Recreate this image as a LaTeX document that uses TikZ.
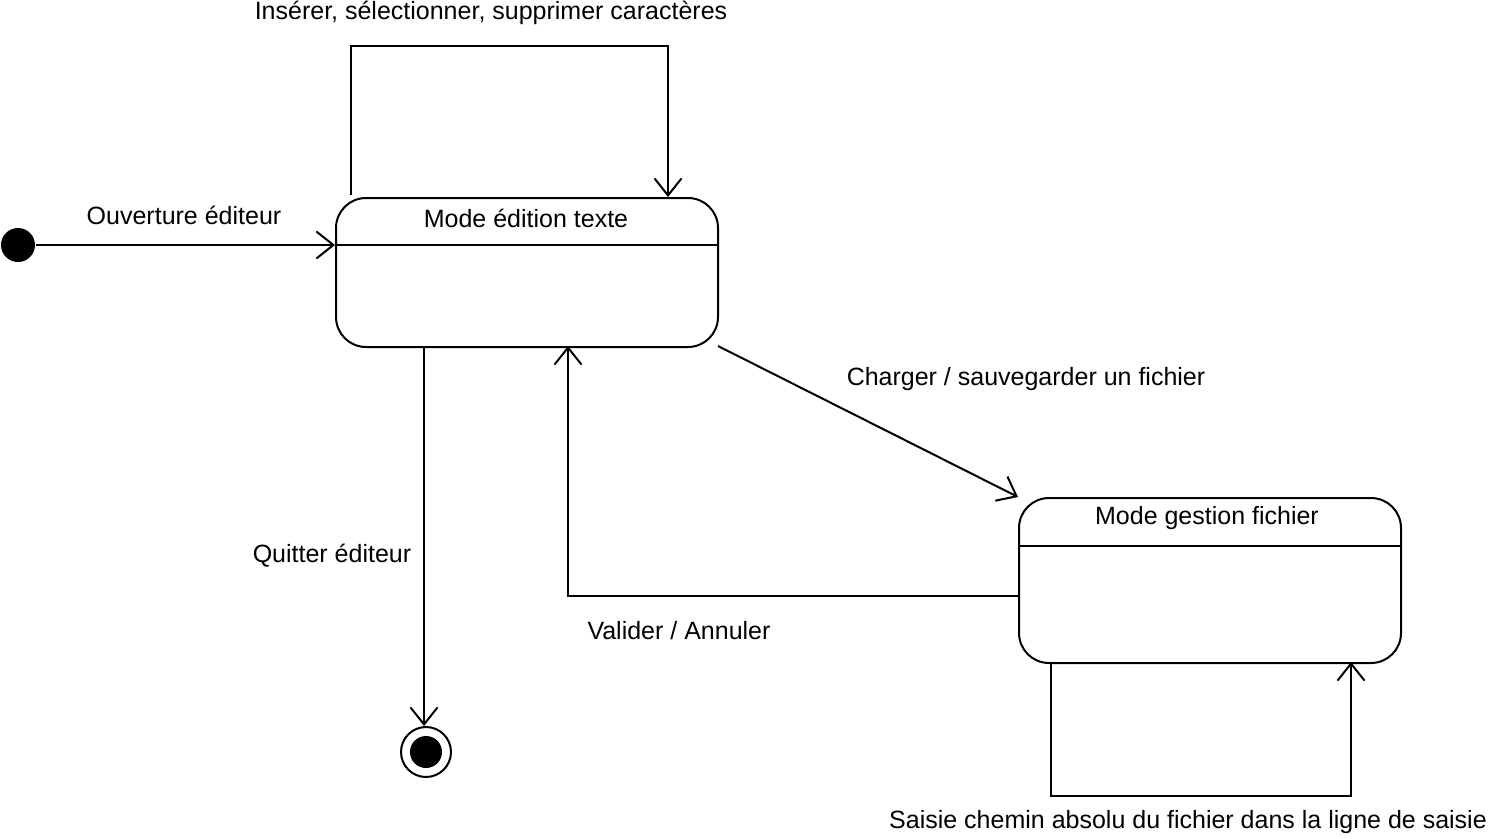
\documentclass[tikz,border=0pt]{standalone}
\usepackage{fontspec}
\setmainfont{Liberation Sans}
\usetikzlibrary{arrows.meta}
\begin{document}
\begin{tikzpicture}[x=1pt,y=-1pt,
  line width=2pt,
  every node/.style={font=\fontsize{25}{29}\selectfont, inner sep=0pt},
  trans/.style={draw, -{Straight Barb[length=17pt,width=27pt,line width=2pt]}},
  statebox/.style={draw, rounded corners=30pt, minimum width=382pt, inner sep=0pt},
  lbl/.style={anchor=center}]
\useasboundingbox (0,0) rectangle (1488,838);
\fill[white] (0,0) rectangle (1488,838);
% states
\node[statebox, minimum height=149pt, anchor=north west] (s1) at (335,197) {};
\draw (s1.west |- 0,245) -- (s1.east |- 0,245);
\node (t1) at (526,218) {Mode édition texte};
\node[statebox, minimum height=165pt, anchor=north west] (s2) at (1018,497) {};
\draw (s2.west |- 0,546) -- (s2.east |- 0,546);
\node (t2) at (1207,518) {Mode gestion fichier};
% initial and final
\node[fill=black, circle, minimum size=34pt] (init) at (18,245) {};
\node[draw, circle, minimum size=50pt] (fin) at (426,752) {};
\fill (fin.center) circle (16pt);
% transitions
\draw[trans] (init.east) -- (s1.west |- init.east);
\node (l1) at (184,215) {Ouverture éditeur};
\coordinate (a1) at (351,195);
\coordinate (a2) at (351,46);
\coordinate (a3) at (668,46);
\coordinate (a4) at (668,197);
\draw[trans] (a1) -- (a2) -- (a3) -- (a4);
\node (l2) at (491,13) {Insérer, sélectionner, supprimer caractères};
\coordinate (q1) at (424,346);
\draw[trans] (q1) -- (fin.north -| q1);
\node (l3) at (332,556) {Quitter éditeur};
\coordinate (c1) at (718,346);
\draw[trans] (c1) -- (s2.north west);
\node (l4) at (1026,379) {Charger / sauvegarder un fichier};
\coordinate (v1) at (1018,596);
\coordinate (v2) at (568,596);
\coordinate (v3) at (568,346);
\draw[trans] (v1) -- (v2) -- (v3);
\node (l5) at (679,631) {Valider / Annuler};
\coordinate (b1) at (1051,662);
\coordinate (b2) at (1051,796);
\coordinate (b3) at (1351,796);
\coordinate (b4) at (1351,662);
\draw[trans] (b1) -- (b2) -- (b3) -- (b4);
\node (l6) at (1188,822) {Saisie chemin absolu du fichier dans la ligne de saisie};
\end{tikzpicture}
\end{document}
